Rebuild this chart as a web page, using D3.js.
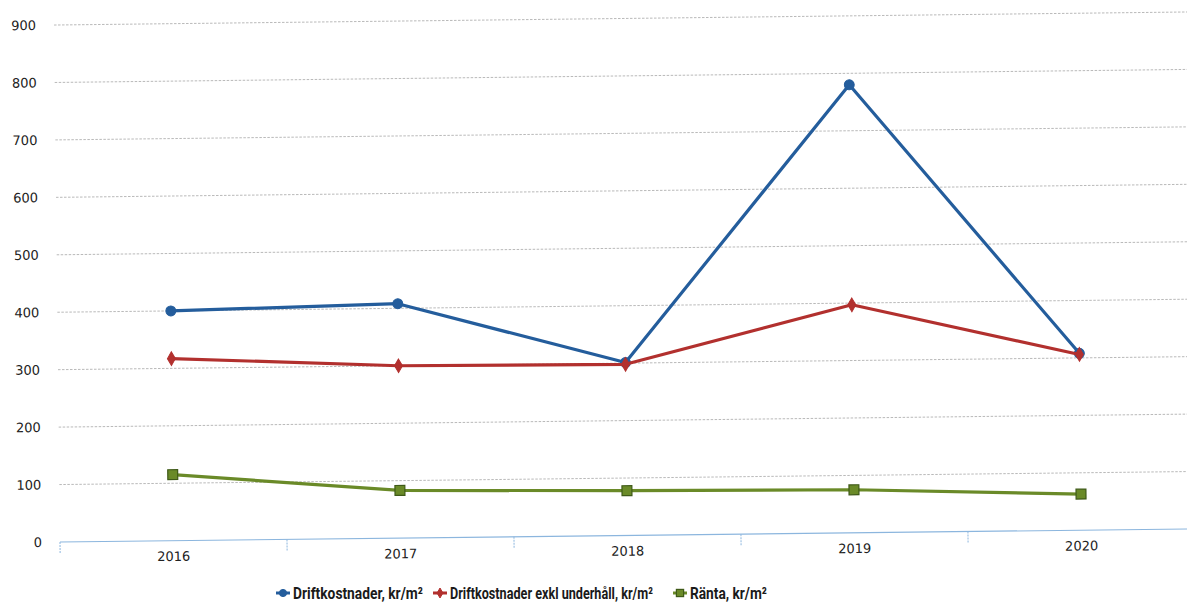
<!DOCTYPE html>
<html>
<head>
<meta charset="utf-8">
<script src="https://cdn.jsdelivr.net/npm/d3@7/dist/d3.min.js"></script>
<style>
  html, body { margin: 0; padding: 0; background: #fff; }
  svg { display: block; }
</style>
</head>
<body>
<svg id="chart" width="1187" height="604"></svg>
<script>
// Years on the category axis
const years = ["2016", "2017", "2018", "2019", "2020"];
// Series values, kr/m²
const driftkostnader = [400, 408, 301, 780, 308];
const driftExklUnderhall = [317, 300, 298, 397, 306];
const ranta = [115, 83, 78, 75, 63];
// Value axis ticks
const yTicks = [0, 100, 200, 300, 400, 500, 600, 700, 800, 900];
// Series names shown in the legend
const seriesNames = ["Driftkostnader, kr/m²", "Driftkostnader exkl underhåll, kr/m²", "Ränta, kr/m²"];

const series = [
  { name: seriesNames[0], values: driftkostnader, color: "#245d9c", marker: "circle" },
  { name: seriesNames[1], values: driftExklUnderhall, color: "#b2302e", marker: "diamond" },
  { name: seriesNames[2], values: ranta, color: "#6a8a28", marker: "square", stroke: "#3f5a18" }
];

const svg = d3.select("#chart");
const x0 = 60, y0 = 542;

const x = d3.scaleBand().domain(years).range([x0, 1195]).paddingInner(0).paddingOuter(0);
const y = d3.scaleLinear().domain([0, 900]).range([y0, 25]);

// plot area is tilted slightly
const plot = svg.append("g").attr("transform", `rotate(-0.66, ${x0}, ${y0})`);

// gridlines
plot.append("g")
  .selectAll("line")
  .data(yTicks.filter(d => d > 0))
  .join("line")
  .attr("x1", x0).attr("x2", 1210)
  .attr("y1", d => y(d)).attr("y2", d => y(d))
  .attr("stroke", "#a8a8a8")
  .attr("stroke-width", 0.8)
  .attr("stroke-dasharray", "2.5,1.5");

// value axis labels
const yAxis = d3.axisLeft(y).tickValues(yTicks).tickSize(0).tickPadding(0);
const gy = plot.append("g").attr("transform", "translate(42,0)").call(yAxis);
gy.select(".domain").remove();
gy.selectAll("text")
  .attr("font-family", "DejaVu Sans, Verdana, sans-serif")
  .attr("font-size", 13)
  .attr("fill", "#222");

// category axis
const xAxis = d3.axisBottom(x).tickSize(0).tickPadding(11);
const gx = plot.append("g").attr("transform", `translate(0,${y0})`).call(xAxis);
gx.select(".domain").remove();
gx.selectAll("text")
  .attr("font-family", "DejaVu Sans, Verdana, sans-serif")
  .attr("font-size", 13)
  .attr("fill", "#222");

plot.append("line")
  .attr("x1", x0).attr("x2", 1210)
  .attr("y1", y0).attr("y2", y0)
  .attr("stroke", "#8cb6de").attr("stroke-width", 1.2);

// tick marks between categories
const edges = years.map(d => x(d));
plot.append("g").selectAll("line")
  .data(edges)
  .join("line")
  .attr("x1", d => d).attr("x2", d => d)
  .attr("y1", y0).attr("y2", y0 + 12)
  .attr("stroke", "#8cb6de")
  .attr("stroke-width", 1)
  .attr("stroke-dasharray", "2,1");

const cx = d => x(d) + x.bandwidth() / 2;

function drawMarker(sel, type, color, stroke, size) {
  if (type === "circle") {
    sel.append("circle").attr("r", size * 0.45).attr("fill", color).attr("stroke", stroke || color).attr("stroke-width", 1);
  } else if (type === "diamond") {
    sel.append("path").attr("d", d3.symbol(d3.symbolDiamond, size * size * 0.45)()).attr("fill", color).attr("stroke", stroke || color).attr("stroke-width", 1);
  } else {
    const s = size * 0.9;
    sel.append("rect").attr("x", -s / 2).attr("y", -s / 2).attr("width", s).attr("height", s)
      .attr("fill", color).attr("stroke", stroke || color).attr("stroke-width", 1.2);
  }
}

const line = d3.line().x(d => cx(d.year)).y(d => y(d.value));

series.forEach(s => {
  const pts = years.map((yr, i) => ({ year: yr, value: s.values[i] }));
  plot.append("path")
    .datum(pts)
    .attr("d", line)
    .attr("fill", "none")
    .attr("stroke", s.color)
    .attr("stroke-width", 3.2)
    .attr("stroke-linejoin", "round");
  plot.append("g").selectAll("g")
    .data(pts)
    .join("g")
    .attr("transform", d => `translate(${cx(d.year)},${y(d.value)})`)
    .each(function () { drawMarker(d3.select(this), s.marker, s.color, s.stroke, 11); });
});

// legend: condensed bold labels, each fitted to its slot
const legendX = [276, 433, 673];
const legendW = [130, 203, 77];
const legend = svg.append("g").attr("transform", "translate(0,593)");
series.forEach((s, i) => {
  const item = legend.append("g").attr("transform", `translate(${legendX[i]},0)`);
  item.append("line").attr("x1", 0).attr("x2", 14).attr("y1", 0).attr("y2", 0)
    .attr("stroke", s.color).attr("stroke-width", 3);
  const m = item.append("g").attr("transform", "translate(7,0)");
  drawMarker(m, s.marker, s.color, s.stroke, 8);
  const t = item.append("g").attr("transform", "translate(17,0)")
    .append("text")
    .attr("x", 0).attr("y", 0).attr("dy", "0.36em")
    .attr("font-family", "Roboto, Open Sans, sans-serif")
    .attr("font-weight", 700)
    .attr("font-size", 16.5)
    .attr("fill", "#1a1a1a")
    .text(s.name);
  const sx = legendW[i] / t.node().getComputedTextLength();
  t.attr("transform", `scale(${sx},1)`);
});
</script>
</body>
</html>
